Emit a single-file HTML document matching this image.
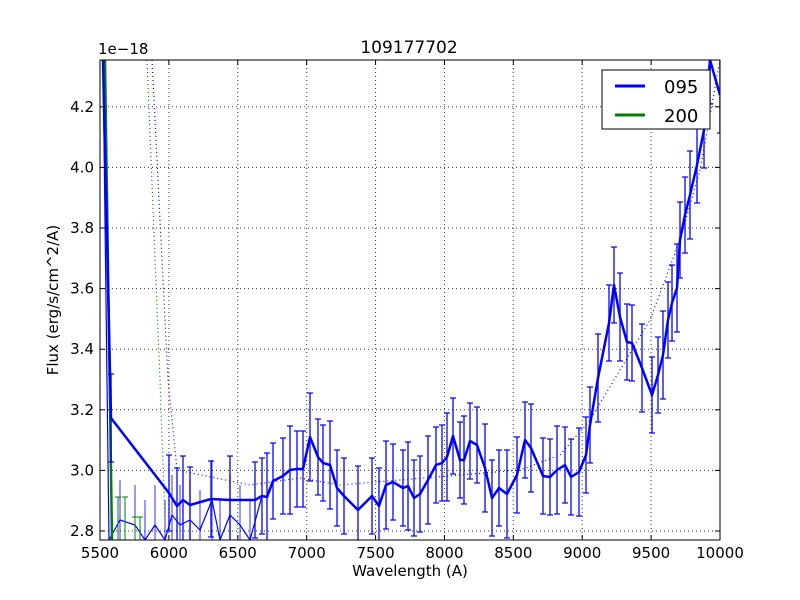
<!DOCTYPE html>
<html><head><meta charset="utf-8"><style>
body{margin:0;background:#fff;}
svg{display:block;font-family:"DejaVu Sans","Liberation Sans",sans-serif;}
</style></head><body>
<svg id="s" width="800" height="600" xmlns="http://www.w3.org/2000/svg">
<rect width="800" height="600" fill="#fff"/>
<defs><clipPath id="c"><rect x="100" y="60" width="620" height="480"/></clipPath></defs>
<g id="grid" stroke="#000" stroke-width="1" stroke-dasharray="1,3" opacity="0.8"></g>
<g id="data" clip-path="url(#c)"></g>
<rect x="100" y="60" width="620" height="480" fill="none" stroke="#000" stroke-width="1"/>
<g id="ticks" stroke="#000"></g>
<g id="labels" font-size="15" fill="#000"></g>
<text x="409" y="53" font-size="17" text-anchor="middle">109177702</text>
<text x="410" y="576" font-size="15" text-anchor="middle">Wavelength (A)</text>
<text transform="translate(58,300) rotate(-90)" font-size="15" text-anchor="middle">Flux (erg/s/cm^2/A)</text>
<text x="98" y="54" font-size="15">1e−18</text>
<g>
<rect x="602" y="70" width="108" height="59" fill="#fff" stroke="#000"/>
<line x1="615" y1="86" x2="645" y2="86" stroke="#0000ff" stroke-width="3"/>
<text x="664" y="93" font-size="18">095</text>
<line x1="615" y1="115" x2="645" y2="115" stroke="#008000" stroke-width="3"/>
<text x="664" y="122" font-size="18">200</text>
</g>
</svg>
<script>
const NS="http://www.w3.org/2000/svg";
function el(p,t,a,txt){const e=document.createElementNS(NS,t);for(const k in a)e.setAttribute(k,a[k]);if(txt!==undefined)e.textContent=txt;document.getElementById(p).appendChild(e);return e;}
const xs=[5500,6000,6500,7000,7500,8000,8500,9000,9500,10000];
const X=v=>100+(v-5500)*620/4500;
const ys=[2.8,3.0,3.2,3.4,3.6,3.8,4.0,4.2];
const Y=v=>531-(v-2.8)*303;
xs.forEach((v,i)=>{const x=X(v);if(i>0&&i<9)el("grid","line",{x1:x,y1:60,x2:x,y2:540});
el("ticks","line",{x1:x,y1:540,x2:x,y2:535});el("ticks","line",{x1:x,y1:60,x2:x,y2:65});
el("labels","text",{x:x,y:558,"text-anchor":"middle"},v);});
ys.forEach(v=>{const y=Y(v);el("grid","line",{x1:100,y1:y,x2:720,y2:y});
el("ticks","line",{x1:100,y1:y,x2:105,y2:y});el("ticks","line",{x1:720,y1:y,x2:715,y2:y});
el("labels","text",{x:94,y:y+5,"text-anchor":"end"},v.toFixed(1));});
const m=[[103,60],[111,418],[169,493],[177,506],[183,500],[190,505],[211,499],[230,500],[255,500],[262,496],[267,497],[273,481],[283,476],[290,470],[297,469],[303,469],[310,437],[318,457],[323,463],[330,465],[337,488],[344,496],[358,510],[372,496],[379,506],[386,485],[393,482],[403,488],[408,486],[414,498],[420,494],[428,480],[436,465],[442,463],[447,457],[453,436],[460,460],[464,460],[470,441],[477,445],[485,468],[492,498],[499,488],[507,494],[517,475],[525,440],[531,448],[543,476],[550,477],[557,470],[565,465],[571,477],[579,472],[586,455],[590,425],[598,378],[609,323],[614,285],[620,317],[627,342],[632,343],[642,368],[652,395],[658,375],[663,355],[668,320],[672,303],[677,288],[680,240],[685,215],[690,195],[697,165],[704,130],[710,60],[720,95]];
// thin second blue line
const t=[[103,60],[109,540],[120,520],[135,525],[145,540],[155,525],[165,540],[172,515],[180,525],[190,520],[200,530],[212,500],[220,540],[230,515],[240,525],[250,540],[262,496]];
el("data","polyline",{points:t.map(p=>p.join(",")).join(" "),fill:"none",stroke:"#0000ff","stroke-width":1.2});
t.slice(2,16).forEach(p=>{el("data","line",{x1:p[0],y1:p[1]-40,x2:p[0],y2:p[1]+40,stroke:"#0000ff","stroke-width":1,opacity:0.8});});
// green
el("data","polyline",{points:"105,60 112,540",fill:"none",stroke:"#008000","stroke-width":2.5});
[[118,520],[125,520],[135,540],[140,540]].forEach(p=>{el("data","line",{x1:p[0],y1:p[1]-23,x2:p[0],y2:p[1]+30,stroke:"#008000","stroke-width":1});el("data","line",{x1:p[0]-3,y1:p[1]-23,x2:p[0]+3,y2:p[1]-23,stroke:"#008000"});});
el("data","polyline",{points:"147,60 160,380 165,520",fill:"none",stroke:"#008000","stroke-width":1.2,"stroke-dasharray":"1,3"});
// dotted blue
el("data","polyline",{points:"152,60 168,380 177,470 250,485 300,478 340,485 400,480 460,475 520,470 560,455 590,420 620,370 650,320 680,240 700,170 720,60",fill:"none",stroke:"#0000ff","stroke-width":1.2,"stroke-dasharray":"1,3"});
// error bars
m.slice(1).forEach((p,i)=>{const e=i%3==0?44:38;const x=p[0];
el("data","line",{x1:x,y1:p[1]-e,x2:x,y2:p[1]+e,stroke:"#0000ff","stroke-width":1.5,opacity:0.85});
el("data","line",{x1:x-3,y1:p[1]-e,x2:x+3,y2:p[1]-e,stroke:"#0000ff","stroke-width":1.2});
el("data","line",{x1:x-3,y1:p[1]+e,x2:x+3,y2:p[1]+e,stroke:"#0000ff","stroke-width":1.2});});
el("data","polyline",{points:m.map(p=>p.join(",")).join(" "),fill:"none",stroke:"#0000ff","stroke-width":2.5,"stroke-linejoin":"round"});
</script>
</body></html>
